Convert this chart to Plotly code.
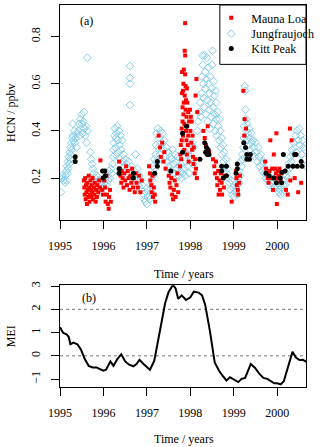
import plotly.graph_objects as go

# ---------------- data ----------------
# Jungfraujoch HCN (year, ppbv)
jfj_year = [
    1995.01, 1995.02, 1995.04, 1995.06, 1995.08,
    1995.12, 1995.13, 1995.14, 1995.15, 1995.16, 1995.17, 1995.18, 1995.19, 1995.20, 1995.21,
    1995.22, 1995.23, 1995.24, 1995.25, 1995.26, 1995.27, 1995.28, 1995.29, 1995.30, 1995.31,
    1995.33, 1995.34, 1995.36, 1995.38,
    1995.40, 1995.42, 1995.44, 1995.45, 1995.47, 1995.48, 1995.50, 1995.51, 1995.52, 1995.54,
    1995.55, 1995.56, 1995.58, 1995.60, 1995.61, 1995.63,
    1995.63,
    1995.70, 1995.72, 1995.74, 1995.76, 1995.78,
    1995.80, 1995.82, 1995.84, 1995.86, 1995.88, 1995.90, 1995.92, 1995.94, 1995.96, 1995.98,
    1996.00, 1996.02,
    1996.05, 1996.07, 1996.09, 1996.11, 1996.13, 1996.15, 1996.17, 1996.19, 1996.21,
    1996.22, 1996.23, 1996.24, 1996.25, 1996.26, 1996.27, 1996.28, 1996.29, 1996.30, 1996.32,
    1996.33, 1996.34, 1996.36, 1996.37, 1996.38, 1996.40, 1996.41, 1996.43, 1996.44, 1996.46,
    1996.48, 1996.50,
    1996.61, 1996.61, 1996.61, 1996.61,
    1996.53, 1996.56, 1996.58, 1996.62, 1996.65, 1996.68, 1996.71, 1996.74, 1996.76, 1996.78,
    1996.80, 1996.82, 1996.85, 1996.87, 1996.89, 1996.92,
    1996.94, 1996.96, 1996.98, 1997.00, 1997.02, 1997.04, 1997.06, 1997.08, 1997.10, 1997.12,
    1997.14, 1997.15, 1997.17, 1997.18, 1997.20, 1997.21, 1997.22, 1997.23, 1997.25, 1997.26,
    1997.28, 1997.30, 1997.32, 1997.34, 1997.36, 1997.38, 1997.40, 1997.42,
    1997.45, 1997.47, 1997.49, 1997.51, 1997.53, 1997.55, 1997.57, 1997.59, 1997.61, 1997.63,
    1997.65, 1997.67, 1997.69, 1997.71, 1997.73, 1997.75, 1997.77, 1997.80, 1997.82,
    1997.85, 1997.88, 1997.90, 1997.93, 1997.95, 1997.97, 1998.00, 1998.02, 1998.04, 1998.06,
    1998.08,
    1998.16, 1998.18, 1998.20, 1998.22, 1998.24, 1998.26, 1998.27, 1998.28, 1998.29, 1998.30,
    1998.31, 1998.32, 1998.33, 1998.34, 1998.35, 1998.36, 1998.37, 1998.38, 1998.39, 1998.40,
    1998.41, 1998.42, 1998.43, 1998.44, 1998.45, 1998.46, 1998.47, 1998.48, 1998.49, 1998.50,
    1998.51, 1998.52, 1998.53, 1998.54, 1998.55, 1998.56, 1998.57, 1998.58, 1998.59, 1998.60,
    1998.61, 1998.63, 1998.64, 1998.66, 1998.67, 1998.69, 1998.70,
    1998.72, 1998.73, 1998.75, 1998.76, 1998.78, 1998.80, 1998.82, 1998.84, 1998.86, 1998.88,
    1998.90, 1998.92, 1998.94, 1998.96, 1998.98, 1999.00, 1999.02, 1999.04, 1999.06,
    1999.08, 1999.09, 1999.10, 1999.12, 1999.13, 1999.15, 1999.16, 1999.18, 1999.19, 1999.20,
    1999.22, 1999.23, 1999.24, 1999.25, 1999.26, 1999.27, 1999.28, 1999.29, 1999.30, 1999.31,
    1999.33, 1999.34, 1999.35, 1999.37, 1999.38, 1999.40, 1999.41, 1999.43, 1999.44,
    1999.46, 1999.48, 1999.50, 1999.52, 1999.54, 1999.56, 1999.58, 1999.60, 1999.62, 1999.64,
    1999.66, 1999.68, 1999.70,
    1999.72, 1999.74, 1999.76, 1999.78, 1999.80, 1999.82, 1999.84, 1999.86, 1999.88, 1999.90,
    1999.92, 1999.94, 1999.96, 1999.98,
    2000.00, 2000.02, 2000.04, 2000.06, 2000.08, 2000.10, 2000.12, 2000.14, 2000.16, 2000.18,
    2000.20, 2000.22,
    2000.24, 2000.26, 2000.28, 2000.30, 2000.32, 2000.34, 2000.36, 2000.38, 2000.40, 2000.42,
    2000.44, 2000.46, 2000.48, 2000.50, 2000.52, 2000.54, 2000.56, 2000.58, 2000.60, 2000.62,
    2000.64, 2000.66,
]
jfj_hcn = [
    0.20, 0.14, 0.21, 0.20, 0.19,
    0.18, 0.21, 0.19, 0.23, 0.25, 0.22, 0.27, 0.24, 0.29, 0.26,
    0.31, 0.28, 0.33, 0.30, 0.35, 0.32, 0.37, 0.43, 0.38, 0.36,
    0.40, 0.35, 0.37, 0.33,
    0.39, 0.40, 0.43, 0.38, 0.45, 0.41, 0.47, 0.43, 0.39, 0.44,
    0.48, 0.41, 0.38, 0.42, 0.35, 0.40,
    0.71,
    0.31, 0.28, 0.26, 0.24, 0.22,
    0.20, 0.18, 0.21, 0.16, 0.19, 0.15, 0.18, 0.14, 0.17, 0.19,
    0.16, 0.18,
    0.20, 0.17, 0.21, 0.19, 0.23, 0.20, 0.24, 0.22, 0.26,
    0.29, 0.32, 0.35, 0.38, 0.41, 0.30, 0.33, 0.37, 0.39, 0.42,
    0.36, 0.31, 0.40, 0.34, 0.28, 0.38, 0.32, 0.36, 0.27, 0.30,
    0.25, 0.28,
    0.675, 0.625, 0.60, 0.51,
    0.26, 0.24, 0.27, 0.22, 0.25, 0.21, 0.23, 0.30, 0.19, 0.24,
    0.17, 0.21, 0.19, 0.15, 0.17, 0.13,
    0.11, 0.10, 0.14, 0.09, 0.12, 0.15, 0.11, 0.17, 0.14, 0.19,
    0.25, 0.21, 0.28, 0.24, 0.30, 0.34, 0.39, 0.27, 0.41, 0.33,
    0.37, 0.30, 0.40, 0.35, 0.39, 0.32, 0.36, 0.29,
    0.33, 0.27, 0.31, 0.25, 0.29, 0.23, 0.28, 0.32, 0.26, 0.22,
    0.30, 0.27, 0.24, 0.29, 0.21, 0.25, 0.23, 0.20, 0.22,
    0.24, 0.21, 0.27, 0.25, 0.30, 0.22, 0.32, 0.28, 0.35, 0.26,
    0.33,
    0.40, 0.44, 0.48, 0.52, 0.46, 0.56, 0.63, 0.72, 0.68, 0.60,
    0.54, 0.50, 0.72, 0.65, 0.58, 0.47, 0.62, 0.71, 0.53, 0.44,
    0.60, 0.67, 0.49, 0.56, 0.41, 0.63, 0.52, 0.46, 0.58, 0.68,
    0.74, 0.50, 0.43, 0.61, 0.55, 0.47, 0.40, 0.57, 0.52, 0.45,
    0.38, 0.48, 0.42, 0.36, 0.45, 0.40, 0.33,
    0.37, 0.30, 0.34, 0.27, 0.31, 0.25, 0.28, 0.22, 0.24, 0.20,
    0.18, 0.15, 0.19, 0.13, 0.16, 0.12, 0.17, 0.14, 0.15,
    0.13, 0.17, 0.20, 0.18, 0.23, 0.21, 0.27, 0.25, 0.30, 0.28,
    0.33, 0.37, 0.42, 0.59, 0.57, 0.49, 0.45, 0.40, 0.36, 0.43,
    0.39, 0.34, 0.41, 0.37, 0.32, 0.39, 0.35, 0.30, 0.36,
    0.33, 0.29, 0.35, 0.31, 0.27, 0.33, 0.29, 0.25, 0.30, 0.26,
    0.23, 0.27, 0.22,
    0.24, 0.20, 0.22, 0.19, 0.21, 0.17, 0.20, 0.18, 0.22, 0.19,
    0.16, 0.20, 0.17, 0.19,
    0.16, 0.18, 0.14, 0.15, 0.13, 0.16, 0.14, 0.17, 0.19, 0.17,
    0.21, 0.23,
    0.20, 0.26, 0.24, 0.29, 0.27, 0.32, 0.30, 0.35, 0.33, 0.38,
    0.31, 0.40, 0.36, 0.41, 0.34, 0.38, 0.30, 0.36, 0.33, 0.28,
    0.32, 0.25,
]

# Mauna Loa HCN (year, ppbv)
ml_year = [
    1995.55, 1995.56, 1995.57, 1995.58, 1995.59, 1995.60, 1995.61, 1995.62, 1995.63, 1995.64,
    1995.65, 1995.66, 1995.67, 1995.68, 1995.69, 1995.70, 1995.71, 1995.72, 1995.73, 1995.74,
    1995.75, 1995.76, 1995.78, 1995.79, 1995.80, 1995.82, 1995.83, 1995.85, 1995.86, 1995.88,
    1995.90, 1995.92, 1995.93,
    1995.97, 1995.99, 1996.02, 1996.04, 1996.05, 1996.07, 1996.08, 1996.10, 1996.12, 1996.13,
    1996.15, 1996.17,
    1996.36, 1996.38, 1996.39, 1996.41, 1996.42, 1996.44, 1996.46, 1996.48, 1996.50, 1996.52,
    1996.54, 1996.56, 1996.58, 1996.60, 1996.62, 1996.64, 1996.66, 1996.68, 1996.70, 1996.72,
    1996.74, 1996.76, 1996.79, 1996.82, 1996.85, 1996.88,
    1997.05, 1997.07, 1997.08, 1997.10, 1997.11, 1997.13, 1997.14, 1997.16, 1997.18, 1997.19,
    1997.27, 1997.30, 1997.32, 1997.35, 1997.38, 1997.40, 1997.43,
    1997.50, 1997.52, 1997.54, 1997.56, 1997.58, 1997.60, 1997.62, 1997.64, 1997.66, 1997.68,
    1997.70, 1997.72,
    1997.76, 1997.77, 1997.78, 1997.79, 1997.80, 1997.80, 1997.81, 1997.81, 1997.82, 1997.82,
    1997.83, 1997.83, 1997.84, 1997.84, 1997.85, 1997.85, 1997.86, 1997.86, 1997.87, 1997.87,
    1997.88, 1997.88, 1997.88, 1997.89, 1997.89, 1997.90, 1997.90, 1997.91, 1997.91, 1997.92,
    1997.92, 1997.93, 1997.93, 1997.94, 1997.95, 1997.95, 1997.96, 1997.97,
    1997.99, 1998.00, 1998.01, 1998.02, 1998.03, 1998.04, 1998.05, 1998.06, 1998.07, 1998.08,
    1998.10, 1998.11, 1998.12, 1998.13, 1998.14, 1998.15, 1998.16,
    1998.30, 1998.33, 1998.36, 1998.40, 1998.43,
    1998.52, 1998.55, 1998.57, 1998.59, 1998.61, 1998.62, 1998.64, 1998.65, 1998.67, 1998.68,
    1998.70, 1998.72, 1998.73, 1998.75, 1998.77, 1998.79, 1998.95,
    1999.05, 1999.06, 1999.07, 1999.09, 1999.10, 1999.12, 1999.14, 1999.22, 1999.24, 1999.25,
    1999.28,
    1999.72, 1999.74, 1999.76, 1999.78, 1999.80, 1999.82, 1999.84, 1999.86, 1999.88, 1999.90,
    1999.92,
    1999.95, 1999.97, 1999.98, 1999.99, 1999.99, 2000.01, 2000.03, 2000.05, 2000.07, 2000.09,
    2000.29, 2000.33,
    2000.20, 2000.24, 2000.30, 2000.40, 2000.48, 2000.55,
]
ml_hcn = [
    0.19, 0.16, 0.13, 0.20, 0.11, 0.17, 0.14, 0.09, 0.18, 0.15,
    0.12, 0.21, 0.16, 0.10, 0.13, 0.19, 0.15, 0.12, 0.17, 0.14,
    0.20, 0.11, 0.16, 0.13, 0.18, 0.10, 0.15, 0.12, 0.17, 0.14,
    0.19, 0.16, 0.275,
    0.15, 0.13, 0.19, 0.16, 0.10, 0.21, 0.13, 0.09, 0.07, 0.12,
    0.15, 0.10,
    0.27, 0.24, 0.21, 0.18, 0.23, 0.20, 0.16, 0.22, 0.19, 0.25,
    0.17, 0.23, 0.20, 0.15, 0.21, 0.18, 0.24, 0.16, 0.20, 0.14,
    0.22, 0.18, 0.16, 0.21, 0.14, 0.19,
    0.25, 0.22, 0.19, 0.17, 0.14, 0.21, 0.12, 0.16, 0.13, 0.10,
    0.38, 0.33, 0.29, 0.35, 0.27, 0.31, 0.24,
    0.21, 0.18, 0.16, 0.20, 0.13, 0.11, 0.15, 0.19, 0.12, 0.17,
    0.22, 0.14,
    0.25, 0.30, 0.34, 0.28, 0.36, 0.41, 0.56, 0.65, 0.44, 0.50,
    0.57, 0.38, 0.47, 0.60, 0.52, 0.66, 0.32, 0.43, 0.74, 0.55,
    0.857, 0.72, 0.64, 0.49, 0.59, 0.40, 0.53, 0.36, 0.46, 0.30,
    0.58, 0.42, 0.52, 0.34, 0.48, 0.38, 0.27, 0.44,
    0.49, 0.40, 0.46, 0.35, 0.44, 0.32, 0.38, 0.29, 0.26, 0.33,
    0.22, 0.28, 0.55, 0.24, 0.62, 0.20, 0.48,
    0.40, 0.37, 0.34, 0.42, 0.31,
    0.28, 0.25, 0.22, 0.27, 0.20, 0.17, 0.23, 0.13, 0.19, 0.15,
    0.22, 0.18, 0.13, 0.20, 0.16, 0.21, 0.10,
    0.23, 0.20, 0.17, 0.15, 0.13, 0.18, 0.21, 0.57, 0.38, 0.45,
    0.41,
    0.27, 0.24, 0.22, 0.20, 0.18, 0.23, 0.36, 0.20, 0.24, 0.15,
    0.30,
    0.24, 0.22, 0.39, 0.20, 0.09, 0.23, 0.21, 0.24, 0.19, 0.22,
    0.41, 0.36,
    0.15, 0.13, 0.19, 0.20, 0.14, 0.18,
]

# Kitt Peak HCN (year, ppbv)
kp_year = [
    1995.35, 1995.35,
    1995.98, 1995.99, 1996.03, 1996.04,
    1996.36, 1996.36,
    1996.69, 1996.68,
    1997.24, 1997.24, 1997.18,
    1997.55, 1997.82, 1997.82, 1997.91,
    1998.22, 1998.33, 1998.35, 1998.37, 1998.39, 1998.41, 1998.43,
    1998.72, 1998.72, 1998.76, 1998.83, 1998.83, 1999.05,
    1999.08, 1999.08, 1999.23, 1999.27, 1999.30, 1999.30, 1999.36, 1999.38,
    1999.74, 1999.81, 1999.92, 1999.98, 2000.07, 2000.10, 2000.11, 2000.14, 2000.18,
    2000.25, 2000.36, 2000.40, 2000.43, 2000.46, 2000.55, 2000.57,
]
kp_hcn = [
    0.29, 0.27,
    0.23, 0.20, 0.23, 0.21,
    0.24, 0.22,
    0.22, 0.20,
    0.27, 0.25, 0.22,
    0.23, 0.31, 0.39, 0.42,
    0.28, 0.35, 0.31, 0.33, 0.30, 0.32, 0.30,
    0.25, 0.23, 0.20, 0.25, 0.21, 0.22,
    0.26, 0.24, 0.35, 0.33, 0.30, 0.28, 0.28, 0.30,
    0.22, 0.21, 0.20, 0.18, 0.20, 0.18, 0.225, 0.30, 0.23,
    0.25, 0.25, 0.30, 0.30, 0.25, 0.27, 0.25,
]

# Multivariate ENSO Index
mei_year = [
    1995.00, 1995.07, 1995.15, 1995.20, 1995.24, 1995.31, 1995.40, 1995.48, 1995.57, 1995.66,
    1995.75, 1995.84, 1995.92, 1996.00, 1996.06, 1996.16, 1996.23, 1996.32, 1996.41, 1996.50,
    1996.59, 1996.69, 1996.76, 1996.83, 1996.91, 1997.00, 1997.07, 1997.17, 1997.20, 1997.31,
    1997.42, 1997.50, 1997.60, 1997.66, 1997.72, 1997.80, 1997.90, 1998.00, 1998.08, 1998.19,
    1998.27, 1998.34, 1998.45, 1998.56, 1998.66, 1998.74, 1998.83, 1998.91, 1999.00, 1999.10,
    1999.18, 1999.26, 1999.39, 1999.49, 1999.59, 1999.68, 1999.77, 1999.86, 1999.93, 2000.00,
    2000.08, 2000.15, 2000.25, 2000.35, 2000.43, 2000.51, 2000.59, 2000.69,
]
mei_value = [
    1.23, 0.99, 0.92, 0.82, 0.50, 0.57, 0.50, 0.28, -0.14, -0.43,
    -0.50, -0.50, -0.57, -0.64, -0.60, -0.24, -0.43, -0.14, 0.07, -0.24,
    -0.38, -0.45, -0.35, -0.17, -0.33, -0.50, -0.60, -0.21, 0.07, 1.13,
    2.27, 2.75, 3.05, 2.90, 2.45, 2.60, 2.40, 2.52, 2.76, 2.72,
    2.60, 2.20, 1.06, -0.28, -0.64, -0.85, -1.06, -0.92, -1.03, -1.13,
    -0.99, -0.95, -0.35, -0.52, -0.78, -0.95, -0.99, -1.09, -1.18, -1.18,
    -1.23, -1.09, -0.43, 0.17, -0.07, -0.18, -0.17, -0.28,
]
mei_ref_lines = [0, 2]

year_ticks = [1995, 1996, 1997, 1998, 1999, 2000]
hcn_ticks = [0.2, 0.4, 0.6, 0.8]
mei_ticks = [-1, 0, 1, 2, 3]

# ---------------- figure ----------------
FONT = "Liberation Serif"
W, H = 320, 447
ML, MR, MT, MB = 60, 3, 1, 60
PW, PH = W - ML - MR, H - MT - MB


def px_x(px):
    return (px - ML) / PW


def px_y(py):
    return (H - MB - py) / PH


fig = go.Figure()

fig.add_trace(go.Scatter(
    x=jfj_year, y=jfj_hcn, mode="markers", name="Jungfraujoch",
    marker=dict(symbol="diamond-open", size=6, color="#87CEEB", line=dict(width=1, color="#87CEEB")),
    xaxis="x", yaxis="y", legend="legend2",
))
fig.add_trace(go.Scatter(
    x=ml_year, y=ml_hcn, mode="markers", name="Mauna Loa",
    marker=dict(symbol="square", size=4, color="#FF0000", line=dict(width=0)),
    xaxis="x", yaxis="y", legend="legend",
))
fig.add_trace(go.Scatter(
    x=kp_year, y=kp_hcn, mode="markers", name="Kitt Peak",
    marker=dict(symbol="circle", size=5, color="black", line=dict(width=0)),
    xaxis="x", yaxis="y", legend="legend3",
))
fig.add_trace(go.Scatter(
    x=mei_year, y=mei_value, mode="lines", showlegend=False,
    line=dict(color="black", width=2),
    xaxis="x2", yaxis="y2",
))

axis_common = dict(
    showline=True, linecolor="black", linewidth=1, mirror=True,
    ticks="outside", ticklen=8, tickcolor="black", tickwidth=1,
    showgrid=False, zeroline=False,
    tickfont=dict(family=FONT, size=12, color="black"),
)

top_dom = [px_y(218.3), 1.0]
bot_dom = [0.0, px_y(284.3)]

fig.update_layout(
    width=W, height=H,
    margin=dict(l=ML, r=MR, t=MT, b=MB, pad=0),
    paper_bgcolor="white", plot_bgcolor="white",
    font=dict(family=FONT, size=12, color="black"),
    xaxis=dict(axis_common, domain=[0, 1], range=[1995, 1995 + PW / 45.4], anchor="y",
               tickvals=year_ticks, ticklabelstandoff=7),
    yaxis=dict(axis_common, domain=top_dom, range=[0.022, 0.934], anchor="x",
               tickvals=hcn_ticks, ticktext=[f"{v:.1f}" for v in hcn_ticks],
               tickangle=-90, ticklabelstandoff=6),
    xaxis2=dict(axis_common, domain=[0, 1], range=[1995, 1995 + PW / 45.4], anchor="y2",
                tickvals=year_ticks, ticklabelstandoff=7),
    yaxis2=dict(axis_common, domain=bot_dom, range=[-1.34, 3.03], anchor="x2",
                tickvals=mei_ticks, tickangle=-90, ticklabelstandoff=6),
    showlegend=True,
)

leg_common = dict(
    bgcolor="rgba(0,0,0,0)", borderwidth=0,
    font=dict(family=FONT, size=12, color="black"),
    xanchor="left", yanchor="middle", x=px_x(218),
)
fig.update_layout(
    legend=dict(leg_common, y=px_y(14)),
    legend2=dict(leg_common, y=px_y(30)),
    legend3=dict(leg_common, y=px_y(45)),
)

# legend frame
fig.add_shape(type="rect", xref="paper", yref="paper",
              x0=px_x(227), x1=1.0, y0=px_y(61), y1=1.0,
              fillcolor="white", line=dict(color="black", width=1), layer="above")

# dotted reference lines in MEI panel
for v in mei_ref_lines:
    fig.add_shape(type="line", xref="x2 domain", yref="y2", x0=0, x1=1, y0=v, y1=v,
                  line=dict(color="#777777", width=1, dash="dot"), layer="below")

ann_font = dict(family=FONT, size=12, color="black")
annots = [
    dict(text="(a)", x=px_x(88), y=px_y(17)),
    dict(text="(b)", x=px_x(90), y=px_y(297)),
    dict(text="HCN / ppbv", x=px_x(9), y=px_y(110), textangle=-90),
    dict(text="MEI", x=px_x(9), y=px_y(335.5), textangle=-90),
    dict(text="Time / years", x=px_x(190), y=px_y(273)),
    dict(text="Time / years", x=px_x(190), y=px_y(440)),
]
for a in annots:
    fig.add_annotation(xref="paper", yref="paper", showarrow=False,
                       xanchor="center", yanchor="middle", font=ann_font, **a)

fig.write_html("out.html", config={"displayModeBar": False},
               post_script="document.body.style.margin='0px';")
